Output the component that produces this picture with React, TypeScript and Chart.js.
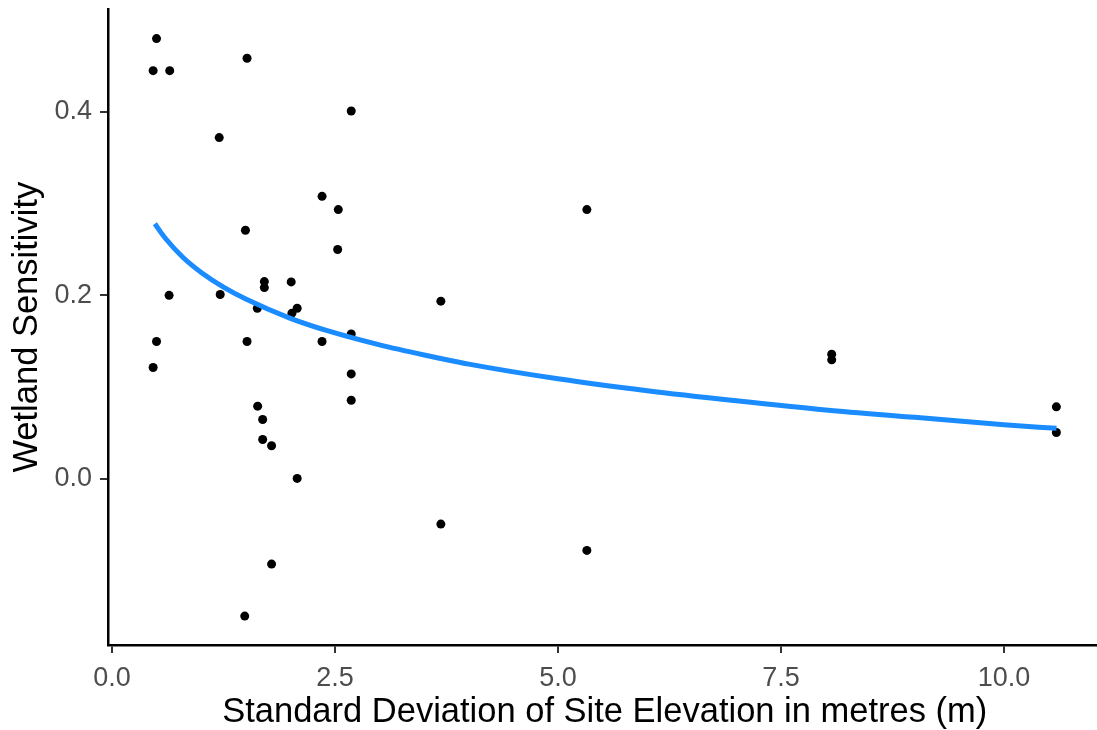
import React, { useEffect, useRef } from "react";
import { Chart, registerables } from "chart.js";
Chart.register(...registerables);

const pointX = [
  0.499, 0.461, 0.647, 1.514, 2.682, 1.202, 2.355, 2.537, 1.496, 2.53,
  0.64, 1.213, 1.708, 1.708, 2.009, 1.629, 2.076, 2.017, 2.682, 0.499,
  1.514, 2.355, 0.461, 2.682, 2.682, 1.633, 1.689, 1.689, 1.789, 2.076,
  1.789, 1.488, 5.324, 3.687, 3.687, 5.324, 8.069, 8.069, 10.588, 10.588,
];
const pointY = [
  0.48, 0.445, 0.445, 0.4585, 0.401, 0.372, 0.308, 0.2935, 0.271, 0.25,
  0.2, 0.201, 0.215, 0.2085, 0.2147, 0.186, 0.186, 0.1806, 0.158, 0.1497,
  0.1497, 0.1497, 0.1213, 0.1144, 0.0857, 0.0792, 0.0647, 0.0429, 0.036, 0.0004,
  -0.093, -0.1497, 0.2935, 0.1937, -0.0494, -0.0781, 0.1359, 0.1297, 0.0785, 0.0505,
];

const curveX = [0.48, 0.6, 0.8, 1.0, 1.25, 1.5, 2.0, 2.5, 3.0, 3.5, 4.0, 5.0, 6.0, 7.0, 8.0, 9.0, 10.0, 10.59];
const curveY = [0.278, 0.262, 0.241, 0.225, 0.209, 0.196, 0.175, 0.159, 0.146, 0.135, 0.125, 0.109, 0.096, 0.085, 0.075, 0.067, 0.059, 0.055];

const xTickValues = [0, 2.5, 5, 7.5, 10];
const xTickLabels = ["0.0", "2.5", "5.0", "7.5", "10.0"];
const yTickValues = [0, 0.2, 0.4];
const yTickLabels = ["0.0", "0.2", "0.4"];

const xTitle = "Standard Deviation of Site Elevation in metres (m)";
const yTitle = "Wetland Sensitivity";

const FONT = "'Liberation Sans', Arial, Helvetica, sans-serif";

export default function App() {
  const ref = useRef<HTMLCanvasElement>(null);
  useEffect(() => {
    document.body.style.margin = "0";
    const chart = new Chart(ref.current as HTMLCanvasElement, {
      type: "scatter",
      data: {
        datasets: [
          {
            data: curveX.map((x, i) => ({ x, y: curveY[i] })),
            showLine: true,
            borderColor: "#1A8CFF",
            backgroundColor: "#1A8CFF",
            borderWidth: 5,
            pointRadius: 0,
            cubicInterpolationMode: "monotone",
            fill: false,
          } as any,
          {
            data: pointX.map((x, i) => ({ x, y: pointY[i] })),
            backgroundColor: "#000000",
            borderColor: "#000000",
            borderWidth: 0,
            pointRadius: 4.5,
          },
        ],
      },
      options: {
        responsive: false,
        animation: false,
        devicePixelRatio: 1,
        layout: { padding: { top: 9.4, left: 0, right: 0, bottom: 0 } },
        plugins: { legend: { display: false }, tooltip: { enabled: false } },
        scales: {
          x: {
            type: "linear",
            min: -0.045,
            max: 11.094,
            afterBuildTicks: (s: any) => {
              s.ticks = xTickValues.map((v) => ({ value: v }));
            },
            afterFit: (s: any) => {
              s.height = 85;
              s.paddingLeft = 0;
              s.paddingRight = 0;
            },
            ticks: {
              autoSkip: false,
              maxRotation: 0,
              padding: 9,
              color: "#4D4D4D",
              font: { family: FONT, size: 27 },
              callback: (v: any) => xTickLabels[xTickValues.indexOf(Number(v))],
            },
            grid: { drawOnChartArea: false, drawTicks: true, tickLength: 8, color: "#333333", lineWidth: 2 },
            border: { display: true, color: "#000000", width: 2.5 },
            title: {
              display: true,
              text: xTitle,
              color: "#000000",
              font: { family: FONT, size: 34.5 },
              padding: { top: 0, bottom: -3 },
            },
          },
          y: {
            type: "linear",
            min: -0.1812,
            max: 0.5118,
            afterBuildTicks: (s: any) => {
              s.ticks = yTickValues.map((v) => ({ value: v }));
            },
            afterFit: (s: any) => {
              s.width = 108;
              s.paddingTop = 0;
              s.paddingBottom = 0;
            },
            ticks: {
              autoSkip: false,
              padding: 8,
              color: "#4D4D4D",
              font: { family: FONT, size: 27 },
              callback: (v: any) => yTickLabels[yTickValues.indexOf(Number(v))],
            },
            grid: { drawOnChartArea: false, drawTicks: true, tickLength: 8, color: "#333333", lineWidth: 2 },
            border: { display: true, color: "#000000", width: 2.5 },
            title: {
              display: true,
              text: yTitle,
              color: "#000000",
              font: { family: FONT, size: 34.5 },
              padding: { top: 7, bottom: 0 },
            },
          },
        },
      },
    });
    return () => chart.destroy();
  }, []);
  return (
    <div style={{ position: "fixed", left: 0, top: 0, width: 1097, height: 730, overflow: "hidden", background: "#ffffff" }}>
      <canvas ref={ref} width={1106} height={730} style={{ display: "block", width: 1106, height: 730 }} />
    </div>
  );
}
